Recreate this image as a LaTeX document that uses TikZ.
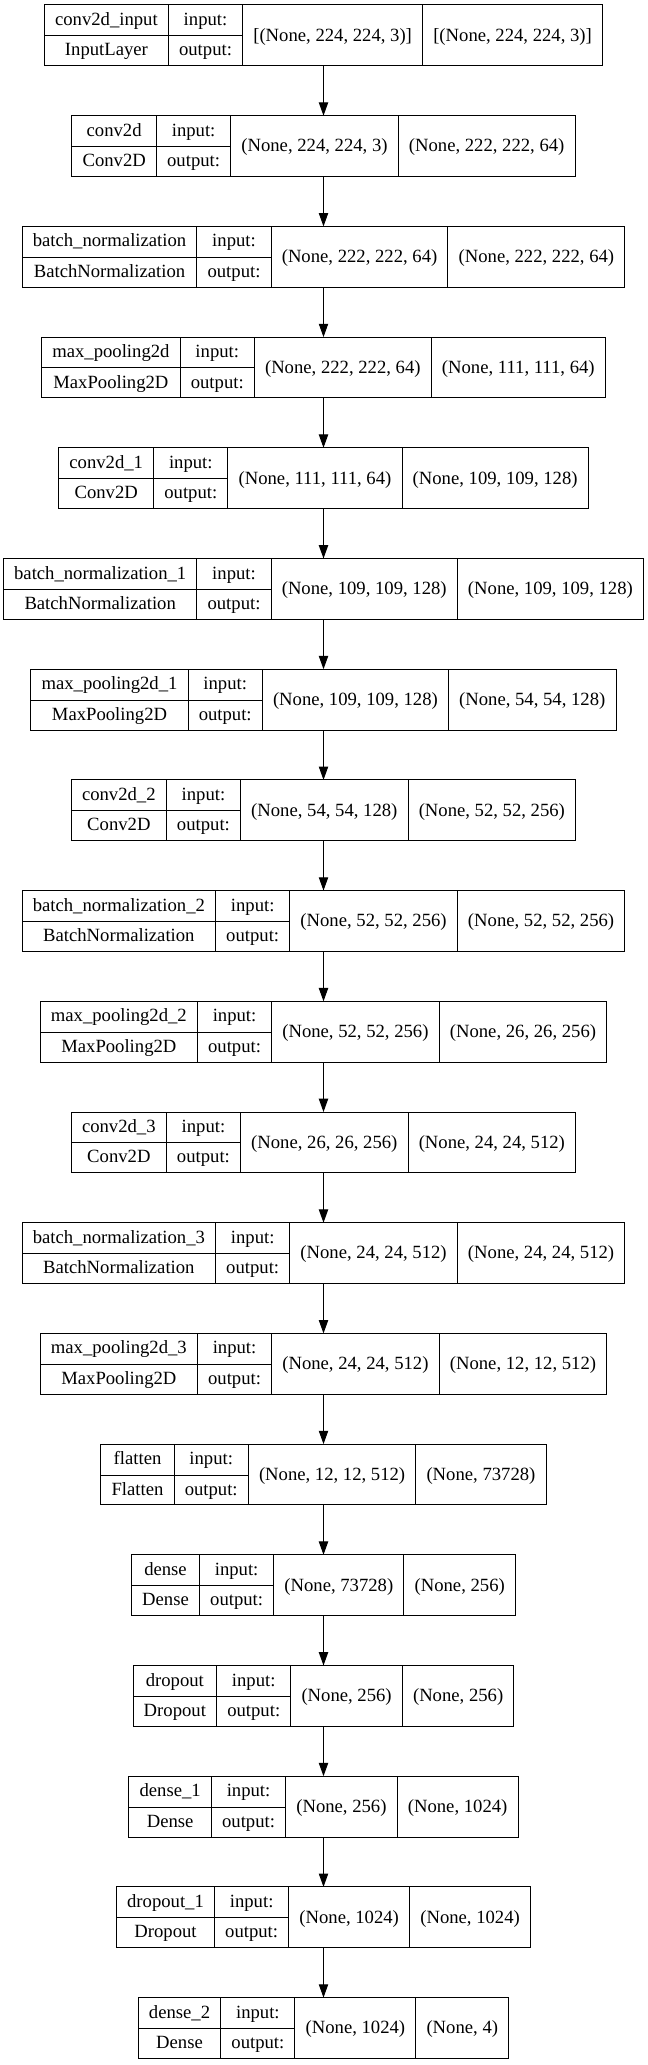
\documentclass[tikz,border=0pt]{standalone}
\usepackage{fontspec}
\setmainfont{Liberation Serif}
\usetikzlibrary{arrows.meta}
\setlength\arrayrulewidth{0.75pt}
\setlength\tabcolsep{8pt}
\newcommand\klFont{\fontsize{14pt}{16.8pt}\selectfont}
\newcommand\klStrut{\rule[-7.4pt]{0pt}{22.8pt}}
\newcommand\klLow[1]{\raisebox{-11.8pt}[0pt][0pt]{#1}}
\tikzset{
  layer/.style={draw=black, line width=0.75pt, inner sep=0pt, outer sep=0pt, font=\klFont, text=black, anchor=north},
  conn/.style={draw=black, line width=0.75pt, -{Triangle[length=10pt,width=7pt]}}
}
\newcommand\kerasLayer[6]{%
  \node[layer] (#1) at (0pt,#2) {\begin{tabular}{c|c|c|c}
    \klStrut #3 & input: & \klLow{#5} & \klLow{#6}\\ \cline{1-2}
    \klStrut #4 & output: & & \\
  \end{tabular}};%
}
\begin{document}
\begin{tikzpicture}
\fill[white] (-242.625pt,0pt) rectangle (242.625pt,-1548.75pt);
\useasboundingbox (-242.625pt,0pt) rectangle (242.625pt,-1548.75pt);
\kerasLayer{L0}{-3.75pt}{conv2d\_input}{InputLayer}{[(None, 224, 224, 3)]}{[(None, 224, 224, 3)]}
\kerasLayer{L1}{-86.775pt}{conv2d}{Conv2D}{(None, 224, 224, 3)}{(None, 222, 222, 64)}
\kerasLayer{L2}{-169.8pt}{batch\_normalization}{BatchNormalization}{(None, 222, 222, 64)}{(None, 222, 222, 64)}
\kerasLayer{L3}{-252.825pt}{max\_pooling2d}{MaxPooling2D}{(None, 222, 222, 64)}{(None, 111, 111, 64)}
\kerasLayer{L4}{-335.85pt}{conv2d\_1}{Conv2D}{(None, 111, 111, 64)}{(None, 109, 109, 128)}
\kerasLayer{L5}{-418.875pt}{batch\_normalization\_1}{BatchNormalization}{(None, 109, 109, 128)}{(None, 109, 109, 128)}
\kerasLayer{L6}{-501.9pt}{max\_pooling2d\_1}{MaxPooling2D}{(None, 109, 109, 128)}{(None, 54, 54, 128)}
\kerasLayer{L7}{-584.925pt}{conv2d\_2}{Conv2D}{(None, 54, 54, 128)}{(None, 52, 52, 256)}
\kerasLayer{L8}{-667.95pt}{batch\_normalization\_2}{BatchNormalization}{(None, 52, 52, 256)}{(None, 52, 52, 256)}
\kerasLayer{L9}{-750.975pt}{max\_pooling2d\_2}{MaxPooling2D}{(None, 52, 52, 256)}{(None, 26, 26, 256)}
\kerasLayer{L10}{-834pt}{conv2d\_3}{Conv2D}{(None, 26, 26, 256)}{(None, 24, 24, 512)}
\kerasLayer{L11}{-917.025pt}{batch\_normalization\_3}{BatchNormalization}{(None, 24, 24, 512)}{(None, 24, 24, 512)}
\kerasLayer{L12}{-1000.05pt}{max\_pooling2d\_3}{MaxPooling2D}{(None, 24, 24, 512)}{(None, 12, 12, 512)}
\kerasLayer{L13}{-1083.075pt}{flatten}{Flatten}{(None, 12, 12, 512)}{(None, 73728)}
\kerasLayer{L14}{-1166.1pt}{dense}{Dense}{(None, 73728)}{(None, 256)}
\kerasLayer{L15}{-1249.125pt}{dropout}{Dropout}{(None, 256)}{(None, 256)}
\kerasLayer{L16}{-1332.15pt}{dense\_1}{Dense}{(None, 256)}{(None, 1024)}
\kerasLayer{L17}{-1415.175pt}{dropout\_1}{Dropout}{(None, 1024)}{(None, 1024)}
\kerasLayer{L18}{-1498.2pt}{dense\_2}{Dense}{(None, 1024)}{(None, 4)}
\foreach \a/\b in {L0/L1,L1/L2,L2/L3,L3/L4,L4/L5,L5/L6,L6/L7,L7/L8,L8/L9,L9/L10,L10/L11,L11/L12,L12/L13,L13/L14,L14/L15,L15/L16,L16/L17,L17/L18}
  \draw[conn] (\a.south) -- (\b.north);
\end{tikzpicture}
\end{document}
